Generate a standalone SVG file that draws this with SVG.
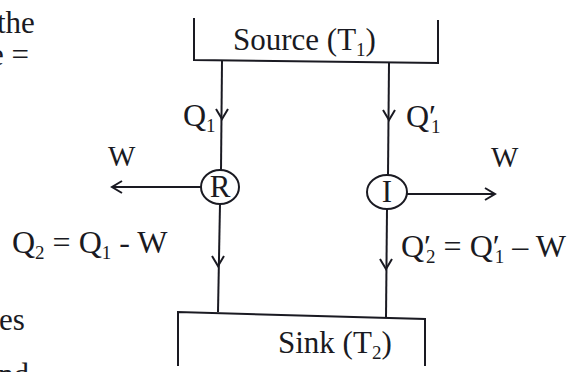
<svg xmlns="http://www.w3.org/2000/svg" width="581" height="372" viewBox="0 0 581 372">
<style>
text{font-family:"Liberation Serif","Times New Roman",serif;font-size:31px;fill:#1a1a22}
.eq{font-size:32px}
.w{font-size:29px}
.sub{font-size:19px}
.ln{fill:none;stroke:#1a1a22;stroke-width:2}
.ah{fill:none;stroke:#1a1a22;stroke-width:2;stroke-linejoin:miter}
</style>
<rect width="581" height="372" fill="#ffffff"/>
<g id="margin-text">
<text x="-3" y="33">the</text>
<text x="-10" y="65">e =</text>
<text x="-1" y="330">es</text>
<text x="-2" y="385">nd</text>
</g>
<g id="source">
<path class="ln" d="M194,18 V60 L438,63 V20"/>
<text x="233" y="50">Source (T<tspan class="sub" dy="6">1</tspan><tspan dy="-6">)</tspan></text>
</g>
<g id="sink">
<path class="ln" d="M178,366 V312 L425,319 V366"/>
<text x="278" y="353">Sink (T<tspan class="sub" dy="6">2</tspan><tspan dy="-6">)</tspan></text>
</g>
<g id="R">
<ellipse class="ln" cx="220" cy="187" rx="19" ry="17"/>
<text x="220" y="197" text-anchor="middle">R</text>
</g>
<g id="I">
<ellipse class="ln" cx="387" cy="192" rx="20" ry="17"/>
<text x="387" y="202" text-anchor="middle">I</text>
</g>
<g id="connectors">
<line class="ln" x1="222" y1="61" x2="221" y2="170"/>
<polyline class="ah" points="216,109 222,119 228,109"/>
<line class="ln" x1="220" y1="204" x2="218" y2="312"/>
<polyline class="ah" points="212,256 218,266 224,256"/>
<line class="ln" x1="201" y1="187" x2="112" y2="187"/>
<polyline class="ah" points="122,181 112,187 122,193"/>
<line class="ln" x1="389" y1="63" x2="388" y2="175"/>
<polyline class="ah" points="383,110 389,120 395,110"/>
<line class="ln" x1="387" y1="209" x2="386" y2="318"/>
<polyline class="ah" points="380,259 386,269 392,259"/>
<line class="ln" x1="407" y1="194" x2="495" y2="194"/>
<polyline class="ah" points="485,188 495,194 485,200"/>
</g>
<g id="labels">
<text class="eq" x="183" y="126">Q<tspan class="sub" dy="6">1</tspan></text>
<text class="eq" x="406" y="127">Q′<tspan class="sub" dx="-5" dy="6">1</tspan></text>
<text class="w" x="108" y="166">W</text>
<text class="w" x="491" y="167">W</text>
<text class="eq" x="12" y="253">Q<tspan class="sub" dy="6">2</tspan><tspan dy="-6"> = Q</tspan><tspan class="sub" dy="6">1</tspan><tspan dy="-6"> - W</tspan></text>
<text class="eq" x="401" y="257">Q′<tspan class="sub" dx="-5" dy="6">2</tspan><tspan dy="-6"> = Q′</tspan><tspan class="sub" dx="-5" dy="6">1</tspan><tspan dy="-6"> – W</tspan></text>
</g>
</svg>
